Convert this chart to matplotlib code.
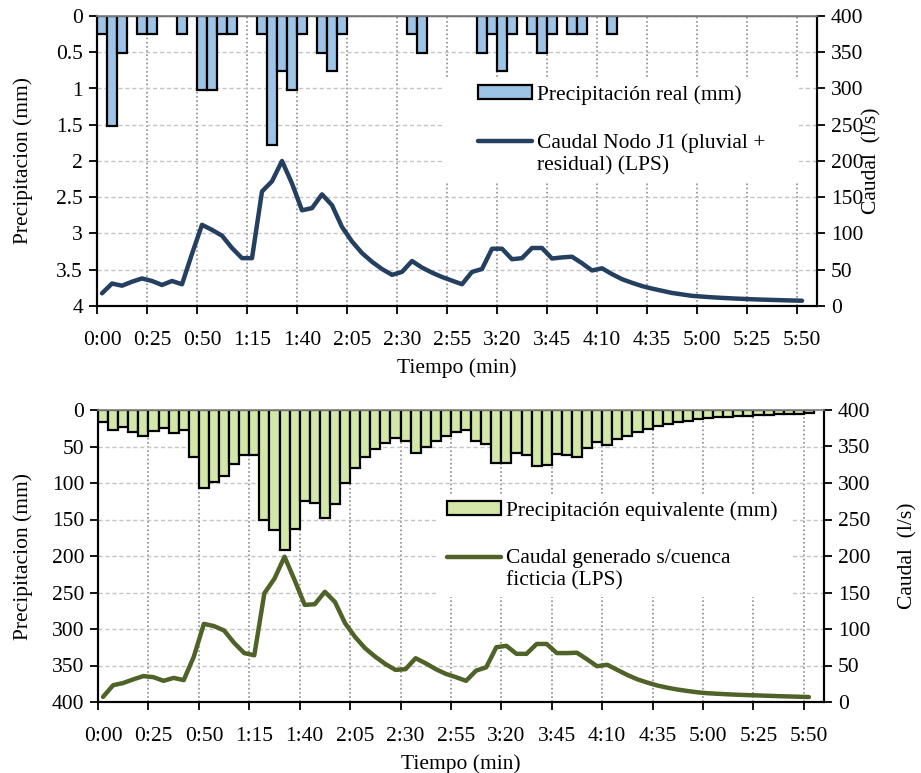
import numpy as np
import matplotlib
matplotlib.use("Agg")
import matplotlib.pyplot as plt
from matplotlib.ticker import FixedLocator, FormatStrFormatter
from matplotlib.legend_handler import HandlerLine2D
from matplotlib.patches import Rectangle

plt.rcParams['font.family'] = 'serif'
plt.rcParams['font.serif'] = ['Liberation Serif', 'DejaVu Serif']
plt.rcParams['font.size'] = 15.5

# 72 intervals of 5 min (0:00 .. 5:55)
n_cat = 72
time_labels = ["0:00", "0:25", "0:50", "1:15", "1:40", "2:05", "2:30", "2:55",
               "3:20", "3:45", "4:10", "4:35", "5:00", "5:25", "5:50"]

# rain gauge record, mm per 5 min (0.254 mm bucket)
precip_real = [0.254, 1.524, 0.508, 0, 0.254, 0.254, 0, 0, 0.254, 0,
               1.016, 1.016, 0.254, 0.254, 0, 0, 0.254, 1.778, 0.762, 1.016,
               0.254, 0, 0.508, 0.762, 0.254, 0, 0, 0, 0, 0,
               0, 0.254, 0.508, 0, 0, 0, 0, 0, 0.508, 0.254,
               0.762, 0.254, 0, 0.254, 0.508, 0.254, 0, 0.254, 0.254, 0,
               0, 0.254, 0, 0, 0, 0, 0, 0, 0, 0,
               0, 0, 0, 0, 0, 0, 0, 0, 0, 0, 0, 0]

# flow at node J1 (l/s)
caudal_j1 = [17.5, 31, 28, 33.5, 38, 34.5, 29, 34.5, 30, 72,
             112, 105, 97, 80, 66, 66, 158, 172, 200, 169,
             132, 135, 154, 139, 109, 89, 73, 61, 51, 43,
             47, 62, 53, 46, 40, 35, 30, 47, 51, 79,
             79, 64.5, 66, 80, 80, 65.5, 67, 68, 59, 49,
             52, 44, 37, 32, 27.5, 24, 21, 18, 16, 14,
             13, 12, 11.2, 10.5, 9.9, 9.3, 8.8, 8.4, 8, 7.6, 7.3]

# equivalent precipitation (mm)
precip_equiv = [16, 28, 23, 30, 35, 29, 25, 31, 27, 64,
                107, 98, 91, 74, 61, 61, 150, 164, 192, 163,
                125, 128, 148, 129, 100, 80, 65, 54, 45, 39,
                43, 59, 50, 42, 35, 30, 27, 43, 46, 73,
                73, 59, 62, 77, 75, 60, 62, 64, 52, 44,
                48, 40, 35, 30, 26, 22, 19, 17, 15, 13,
                11.5, 10, 9.3, 8.5, 7.7, 7, 6.4, 5.9, 5.4, 5, 4.6]

# flow from the fictitious catchment (l/s)
caudal_ficticia = [7, 23, 26, 31, 35.5, 34, 29, 33, 30, 62,
                   107, 104, 98, 81, 67, 64, 149, 169, 199, 167,
                   133, 134, 151, 137, 108, 89, 73.5, 62, 52, 44,
                   45, 60, 53, 45, 38.5, 34, 29, 43, 47.5, 75,
                   77, 66, 66, 79.5, 79.5, 67, 67, 67.5, 58.5, 49,
                   51, 44, 37, 31, 26.5, 22.5, 19.5, 17, 15, 13.2,
                   12, 11.2, 10.5, 9.9, 9.4, 9, 8.5, 8, 7.6, 7.2, 6.8]

W, H = 921, 773


class HandlerFirstLine(HandlerLine2D):
    """Line handle aligned with the first row of a two-row label."""
    def __init__(self, shift, **kw):
        super().__init__(**kw)
        self.shift = shift

    def create_artists(self, legend, orig_handle, xdescent, ydescent,
                       width, height, fontsize, trans):
        arts = super().create_artists(legend, orig_handle, xdescent, ydescent,
                                      width, height, fontsize, trans)
        for a in arts:
            a.set_ydata(np.asarray(a.get_ydata()) + self.shift * fontsize)
        return arts


def panel(rect, precip, caudal, bar_color, line_color, left_max, left_step,
          left_fmt, bar_label, line_label, leg_anchor, leg_box, right_lab_x):
    l, t, r, b = rect
    ax = fig.add_axes([l / W, 1 - b / H, (r - l) / W, (b - t) / H])
    x = np.arange(len(precip))
    bars = ax.bar(x, precip, width=1.0, color=bar_color, edgecolor='black',
                  linewidth=1.6, zorder=3)
    ax.set_xlim(-0.5, n_cat - 0.5)
    ax.set_ylim(left_max, 0)
    ax.set_yticks(np.arange(0, left_max + left_step / 2, left_step))
    ax.yaxis.set_major_formatter(FormatStrFormatter(left_fmt))
    ax.set_axisbelow(True)

    # tick marks and dotted grid on interval boundaries, labels on categories
    ax.xaxis.set_major_locator(FixedLocator(np.arange(-0.5, n_cat, 5)))
    ax.xaxis.set_minor_locator(FixedLocator(np.arange(0, 71, 5)))
    ax.set_xticklabels([], minor=False)
    ax.set_xticklabels(time_labels, minor=True)
    ax.tick_params(axis='x', which='minor', length=0, pad=18)
    ax.tick_params(axis='x', which='major', length=6, width=1.3, direction='out')
    ax.tick_params(axis='y', length=6, width=1.3, direction='out', pad=4)
    ax.grid(axis='x', which='major', linestyle=(0, (1, 1.5)), color='#8c8c8c', lw=1.2)
    ax.grid(axis='y', linestyle=(0, (3, 2)), color='#c4c4c4', lw=1)

    ax.set_xlabel('Tiempo (min)', labelpad=6)
    ax.set_ylabel('Precipitacion (mm)')
    ax.yaxis.set_label_coords(-0.089, 0.5)

    ax2 = ax.twinx()
    line, = ax2.plot(np.arange(len(caudal)), caudal, color=line_color, lw=3.2,
                     solid_capstyle='round', solid_joinstyle='round')
    ax2.set_ylim(0, 400)
    ax2.set_yticks(np.arange(0, 401, 50))
    ax2.tick_params(axis='y', length=6, width=1.3, direction='out', pad=4)
    ax2.set_ylabel('Caudal  (l/s)')
    ax2.yaxis.set_label_coords(right_lab_x, 0.5)

    for a in (ax, ax2):
        for side in ('left', 'right', 'bottom'):
            a.spines[side].set_color('black')
            a.spines[side].set_linewidth(1.5)
        a.spines['top'].set_color('#8c8c8c')
        a.spines['top'].set_linewidth(1.2)

    # white legend area hiding the grid behind it
    x0, y0, x1, y1 = leg_box
    ax2.add_patch(Rectangle((x0, y0), x1 - x0, y1 - y0, transform=ax2.transAxes,
                            facecolor='white', edgecolor='none', zorder=1))
    leg = ax2.legend([bars, line], [bar_label, line_label], loc='upper left',
                     bbox_to_anchor=leg_anchor, frameon=False,
                     handlelength=2.5, handleheight=0.65, handletextpad=0.25,
                     labelspacing=1.33, borderpad=0, borderaxespad=0,
                     fontsize=15.5,
                     handler_map={line: HandlerFirstLine(0.6)})
    leg.set_zorder(5)
    return ax, ax2


fig = plt.figure(figsize=(W / 100, H / 100), dpi=100)

panel((97, 16, 817, 306), precip_real, caudal_j1, '#9dc3e6', '#243f60',
      4, 0.5, '%g', 'Precipitación real (mm)',
      'Caudal Nodo J1 (pluvial +\nresidual) (LPS)',
      (0.529, 0.762), (0.479, 0.424, 0.974, 0.786), 1.063)

panel((98, 410, 824, 702), precip_equiv, caudal_ficticia, '#d3e8a8', '#4f6228',
      400, 50, '%d', 'Precipitación equivalente (mm)',
      'Caudal generado s/cuenca\nficticia (LPS)',
      (0.4807, 0.688), (0.467, 0.36, 0.953, 0.709), 1.102)

fig.savefig('out.png', dpi=100)
